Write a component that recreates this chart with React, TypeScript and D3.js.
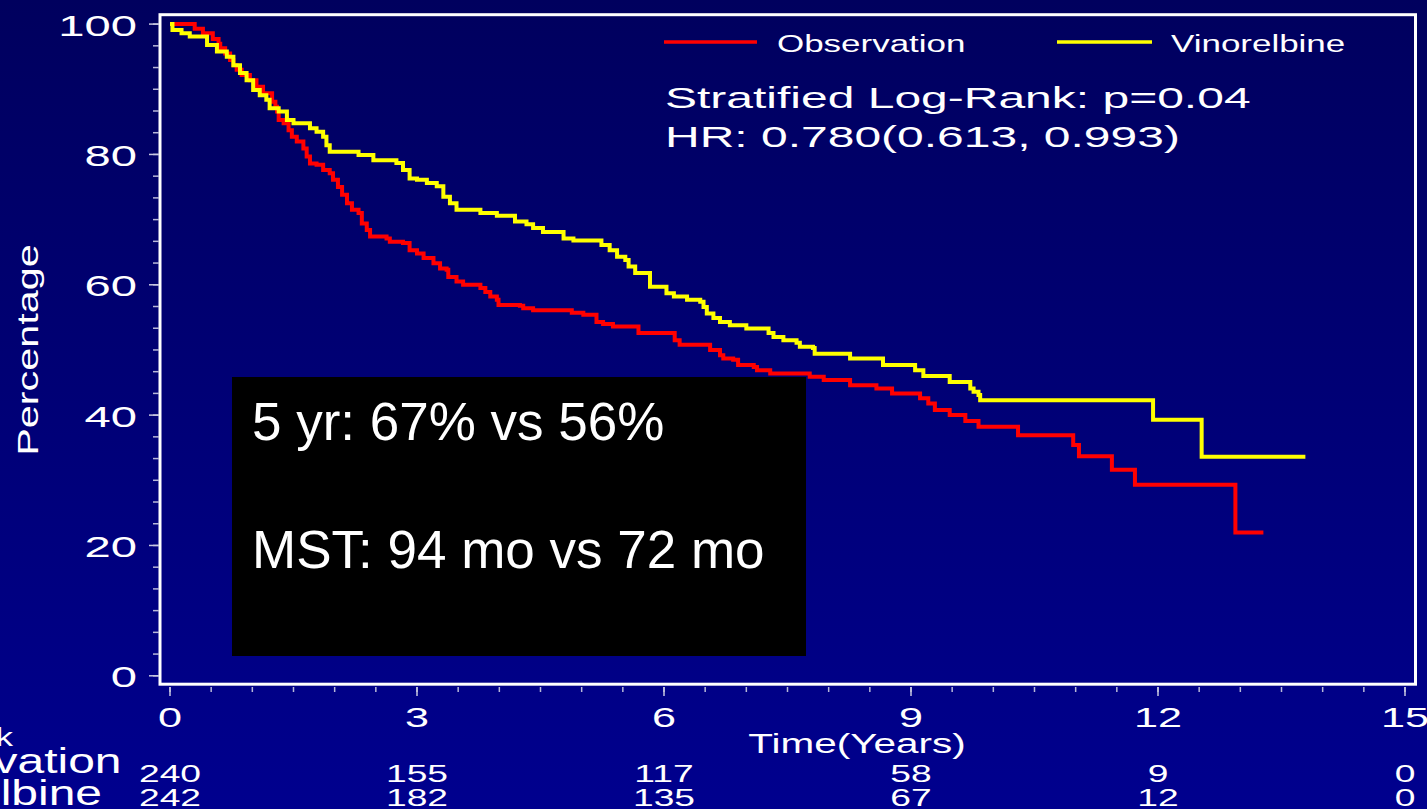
import React from "react";
import * as d3 from "d3";

// Kaplan–Meier estimates: [time in years, percent surviving] at each step
const observationSteps: [number, number][] = [
  [0, 100], [0.3, 99.3], [0.4, 98.6], [0.52, 97.7], [0.59, 97.0], [0.61, 96.3], [0.67, 95.5],
  [0.73, 94.5], [0.77, 93.7], [0.81, 93.0], [0.87, 92.2], [0.97, 91.4], [1.05, 90.4], [1.13, 89.4],
  [1.24, 88.1], [1.28, 87.3], [1.3, 86.6], [1.32, 85.3], [1.38, 84.8], [1.44, 83.7], [1.48, 82.7],
  [1.54, 82.0], [1.62, 80.9], [1.66, 79.7], [1.7, 78.6], [1.78, 78.4], [1.86, 77.6], [1.94, 77.1],
  [1.98, 76.1], [2.04, 75.0], [2.09, 73.8], [2.15, 72.5], [2.21, 71.5], [2.29, 71.0], [2.33, 69.4],
  [2.39, 68.4], [2.43, 67.4], [2.63, 67.1], [2.67, 66.6], [2.83, 66.4], [2.91, 65.3], [3.0, 64.8],
  [3.08, 64.1], [3.2, 63.3], [3.28, 62.5], [3.36, 62.3], [3.38, 61.2], [3.48, 60.5], [3.56, 60.0],
  [3.77, 59.5], [3.83, 58.9], [3.89, 58.2], [3.97, 57.7], [3.99, 56.9], [4.25, 56.8], [4.29, 56.4],
  [4.41, 56.1], [4.88, 55.7], [5.02, 55.4], [5.18, 54.3], [5.26, 54.0], [5.38, 53.6], [5.69, 52.6],
  [6.13, 51.5], [6.19, 50.8], [6.56, 50.0], [6.68, 49.2], [6.72, 48.7], [6.84, 48.5], [6.9, 47.7],
  [7.09, 47.4], [7.13, 46.9], [7.29, 46.4], [7.77, 45.9], [7.94, 45.4], [8.26, 44.6], [8.58, 44.1],
  [8.77, 43.3], [9.11, 42.6], [9.21, 41.8], [9.29, 40.8], [9.47, 40.0], [9.66, 39.1], [9.82, 38.2],
  [10.3, 36.9], [10.97, 35.4], [11.04, 33.7], [11.44, 31.6], [11.72, 29.3], [12.94, 22.0], [13.28, 22.0],
];

const vinorelbineSteps: [number, number][] = [
  [0, 100], [0.03, 99.1], [0.14, 98.6], [0.24, 98.1], [0.45, 96.8], [0.57, 95.8], [0.69, 95.0],
  [0.77, 93.7], [0.85, 92.5], [0.93, 91.4], [1.01, 89.9], [1.09, 89.1], [1.17, 88.4], [1.21, 87.1],
  [1.32, 86.6], [1.42, 85.3], [1.5, 84.8], [1.7, 84.0], [1.78, 83.5], [1.86, 82.7], [1.9, 81.4],
  [1.94, 80.4], [2.29, 79.9], [2.47, 79.1], [2.75, 78.7], [2.83, 77.6], [2.91, 76.3], [3.0, 76.1],
  [3.12, 75.6], [3.24, 75.1], [3.32, 73.5], [3.4, 72.5], [3.48, 71.5], [3.77, 71.0], [3.97, 70.6],
  [4.19, 69.7], [4.33, 69.3], [4.41, 68.7], [4.53, 68.1], [4.78, 67.1], [4.9, 66.8], [5.24, 66.1],
  [5.34, 65.3], [5.43, 64.3], [5.53, 63.8], [5.57, 62.8], [5.65, 61.8], [5.83, 59.7], [6.03, 58.7],
  [6.12, 58.2], [6.28, 57.7], [6.44, 57.4], [6.48, 56.6], [6.52, 55.6], [6.6, 54.9], [6.68, 54.3],
  [6.8, 53.8], [7.0, 53.3], [7.27, 52.6], [7.33, 52.0], [7.45, 51.5], [7.61, 51.1], [7.65, 50.5],
  [7.81, 50.3], [7.83, 49.4], [8.26, 48.7], [8.66, 47.7], [9.05, 46.9], [9.15, 46.0], [9.47, 45.1],
  [9.72, 44.1], [9.76, 43.6], [9.82, 43.1], [9.84, 42.3], [11.94, 39.3], [12.53, 33.6], [13.79, 33.6],
];

const xTicks = [0, 3, 6, 9, 12, 15];
const yTicks = [0, 20, 40, 60, 80, 100];
const atRiskObservation = [240, 155, 117, 58, 9, 0];
const atRiskVinorelbine = [242, 182, 135, 67, 12, 0];

const seriesNames = ["Observation", "Vinorelbine"];
const seriesColors = ["#ff0000", "#ffff00"];
const statLines = ["Stratified Log-Rank: p=0.04", "HR: 0.780(0.613, 0.993)"];
const summaryLines = ["5 yr: 67% vs 56%", "MST: 94 mo vs 72 mo"];

const W = 1427;
const H = 809;
const FONT = "'Liberation Sans', Arial, Helvetica, sans-serif";
const SX = 1.6; // exported plot text is horizontally widened

const x = d3.scaleLinear().domain([0, 15]).range([170, 1405]);
const y = d3.scaleLinear().domain([0, 100]).range([675.8, 24.1]);

const stepLine = d3
  .line<[number, number]>()
  .x((d) => x(d[0]))
  .y((d) => y(d[1]))
  .curve(d3.curveStepAfter);

function WideText(props: {
  x: number;
  y: number;
  size: number;
  sx?: number;
  anchor?: "start" | "middle" | "end";
  children: React.ReactNode;
}) {
  const { x: tx, y: ty, size, sx = SX, anchor = "start", children } = props;
  return (
    <text
      transform={`translate(${tx},${ty}) scale(${sx},1)`}
      fontSize={size}
      textAnchor={anchor}
      fill="#ffffff"
      fontFamily={FONT}
    >
      {children}
    </text>
  );
}

export default function App() {
  const yMinor = d3.range(0, 100.001, 20 / 6);
  const xMinor = d3.range(0, 15.001, 0.5);

  return (
    <svg
      width={W}
      height={H}
      style={{ position: "absolute", left: 0, top: 0, display: "block" }}
    >
      <defs>
        <linearGradient id="bg" x1="0" y1="0" x2="0" y2="1">
          <stop offset="0" stopColor="#00005e" />
          <stop offset="1" stopColor="#00008e" />
        </linearGradient>
      </defs>
      <rect x={0} y={0} width={W} height={H} fill="url(#bg)" />

      {/* plot frame */}
      <rect x={160} y={14.7} width={1255.5} height={669.5} fill="none" stroke="#ffffff" strokeWidth={3} />

      {/* y axis ticks */}
      {yMinor.map((v, i) => (
        <line key={"ym" + i} x1={153} x2={159} y1={y(v)} y2={y(v)} stroke="#b8b8d8" strokeWidth={1.5} />
      ))}
      {yTicks.map((v) => (
        <line key={"yM" + v} x1={149} x2={159} y1={y(v)} y2={y(v)} stroke="#c8c8e0" strokeWidth={1.5} />
      ))}
      {yTicks.map((v) => (
        <WideText key={"yl" + v} x={137} y={y(v) + 11.5} size={29.5} anchor="end">
          {v}
        </WideText>
      ))}
      <text
        transform="translate(38,350) rotate(-90) scale(1.38,1)"
        fontSize={30}
        textAnchor="middle"
        fill="#ffffff"
        fontFamily={FONT}
      >
        Percentage
      </text>

      {/* x axis ticks */}
      {xMinor.map((v, i) => (
        <line key={"xm" + i} x1={x(v)} x2={x(v)} y1={687} y2={692} stroke="#b8b8d8" strokeWidth={1.5} />
      ))}
      {xTicks.map((v) => (
        <line key={"xM" + v} x1={x(v)} x2={x(v)} y1={687} y2={696} stroke="#c8c8e0" strokeWidth={1.5} />
      ))}
      {xTicks.map((v) => (
        <WideText key={"xl" + v} x={x(v)} y={727} size={27} anchor="middle">
          {v}
        </WideText>
      ))}
      <WideText x={857} y={753} size={27} sx={1.5} anchor="middle">
        Time(Years)
      </WideText>

      {/* survival curves */}
      <path d={stepLine(observationSteps) || ""} fill="none" stroke={seriesColors[0]} strokeWidth={4} />
      <path d={stepLine(vinorelbineSteps) || ""} fill="none" stroke={seriesColors[1]} strokeWidth={4} />

      {/* legend */}
      <line x1={664} x2={757} y1={42} y2={42} stroke={seriesColors[0]} strokeWidth={3.5} />
      <WideText x={777} y={52} size={23} sx={1.52}>
        {seriesNames[0]}
      </WideText>
      <line x1={1057} x2={1152} y1={42} y2={42} stroke={seriesColors[1]} strokeWidth={3.5} />
      <WideText x={1171} y={52} size={23} sx={1.52}>
        {seriesNames[1]}
      </WideText>

      {/* test statistics */}
      <WideText x={665} y={108} size={30}>
        {statLines[0]}
      </WideText>
      <WideText x={665} y={147} size={30}>
        {statLines[1]}
      </WideText>

      {/* summary box */}
      <rect x={232} y={377} width={574} height={279} fill="#000000" />
      <text x={252} y={440} fontSize={53} fill="#ffffff" fontFamily={FONT}>
        {summaryLines[0]}
      </text>
      <text x={252} y={568} fontSize={53} fill="#ffffff" fontFamily={FONT}>
        {summaryLines[1]}
      </text>

      {/* numbers at risk */}
      <WideText x={13} y={746} size={25} sx={1.4} anchor="end">
        No. at Risk
      </WideText>
      <WideText x={-137} y={773} size={35} sx={1.37}>
        {seriesNames[0]}
      </WideText>
      <WideText x={-137} y={805} size={35} sx={1.37}>
        {seriesNames[1]}
      </WideText>
      {xTicks.map((t, i) => (
        <WideText key={"ro" + t} x={x(t)} y={782} size={24} sx={1.55} anchor="middle">
          {atRiskObservation[i]}
        </WideText>
      ))}
      {xTicks.map((t, i) => (
        <WideText key={"rv" + t} x={x(t)} y={806} size={24} sx={1.55} anchor="middle">
          {atRiskVinorelbine[i]}
        </WideText>
      ))}
    </svg>
  );
}
